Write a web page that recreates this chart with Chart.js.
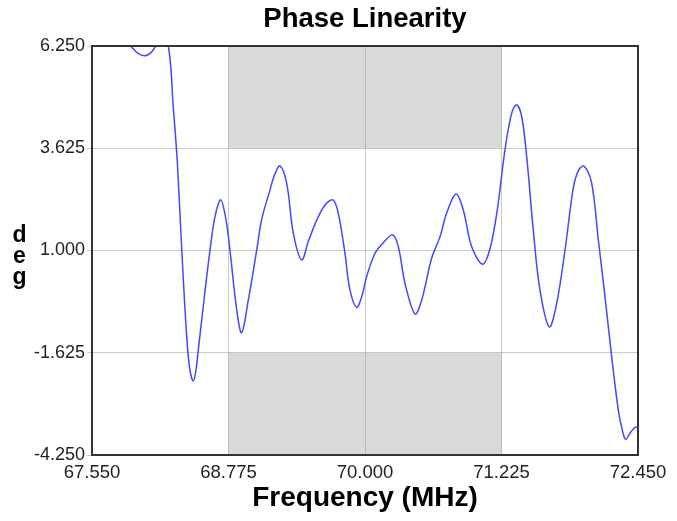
<!DOCTYPE html>
<html>
<head>
<meta charset="utf-8">
<script src="https://cdn.jsdelivr.net/npm/chart.js@4.4.1/dist/chart.umd.min.js"></script>
<style>
  html, body { margin: 0; padding: 0; background: #ffffff; }
  #wrap { width: 677px; height: 521px; position: relative; }
</style>
</head>
<body>
<div id="wrap"><canvas id="c" width="677" height="521"></canvas></div>
<script>
// ---- data ----
const freqMHz = [67.550, 67.712, 67.819, 67.897, 67.963, 68.026, 68.079, 68.122, 68.169, 68.235,
  68.280, 68.315, 68.355, 68.400, 68.429, 68.459, 68.483, 68.504, 68.555, 68.609,
  68.654, 68.705, 68.753, 68.788, 68.849, 68.893, 68.953, 69.028, 69.073, 69.147,
  69.190, 69.237, 69.297, 69.357, 69.432, 69.491, 69.567, 69.641, 69.713, 69.760, 69.820,
  69.865, 69.925, 69.970, 70.015, 70.090, 70.164, 70.249, 70.299, 70.359, 70.449,
  70.509, 70.598, 70.673, 70.733, 70.817, 70.882, 70.957, 71.056, 71.122, 71.187,
  71.256, 71.316, 71.361, 71.406, 71.451, 71.510, 71.570, 71.654, 71.720, 71.795,
  71.869, 71.915, 71.965, 72.034, 72.094, 72.154, 72.214, 72.273, 72.308, 72.339, 72.378,
  72.423, 72.450];
const phaseDeg = [7.30, 6.90, 6.50, 6.25, 6.06, 6.00, 6.08, 6.25, 6.50, 6.25,
  4.65, 3.30, 1.05, -1.21, -2.07, -2.35, -2.07, -1.55, -0.27, 1.01,
  1.87, 2.30, 1.78, 1.01, -0.53, -1.11, -0.27, 1.01, 1.80, 2.55,
  2.95, 3.17, 2.73, 1.44, 0.76, 1.23, 1.78, 2.17, 2.30, 1.96, 0.93,
  -0.01, -0.46, -0.19, 0.33, 0.93, 1.20, 1.40, 1.10, 0.16, -0.63,
  -0.27, 0.80, 1.35, 1.96, 2.45, 2.04, 1.10, 0.65, 1.05, 2.04,
  3.58, 4.52, 4.74, 4.44, 3.41, 1.53, -0.01, -0.96, -0.36, 1.01,
  2.60, 3.05, 3.17, 2.73, 1.27, -0.19, -1.73, -3.09, -3.60, -3.85, -3.69,
  -3.54, -3.54];
const xTickValues = [67.550, 68.775, 70.000, 71.225, 72.450];
const yTickValues = [-4.250, -1.625, 1.000, 3.625, 6.250];
const maskFreq = [68.775, 71.225];          // shaded frequency band
const maskUpper = [3.625, 6.250];           // shaded phase range above band
const maskLower = [-4.250, -1.625];         // shaded phase range below band
const yTitleLetters = ['d', 'e', 'g'];

const FONT = "'Liberation Sans', Arial, Helvetica, sans-serif";

const bgPlugin = {
  id: 'bgAndMask',
  beforeDraw(chart) {
    const ctx = chart.ctx;
    const xs = chart.scales.x, ys = chart.scales.y;
    ctx.save();
    ctx.fillStyle = '#ffffff';
    ctx.fillRect(0, 0, chart.width, chart.height);
    ctx.fillStyle = '#d9d9d9';
    const x0 = xs.getPixelForValue(maskFreq[0]), x1 = xs.getPixelForValue(maskFreq[1]);
    [maskUpper, maskLower].forEach(r => {
      const ya = ys.getPixelForValue(r[1]), yb = ys.getPixelForValue(r[0]);
      ctx.fillRect(x0, ya, x1 - x0, yb - ya);
    });
    ctx.restore();
  },
  afterDraw(chart) {
    const ctx = chart.ctx, ca = chart.chartArea;
    ctx.save();
    ctx.strokeStyle = '#333333';
    ctx.lineWidth = 2;
    ctx.strokeRect(ca.left, ca.top, ca.right - ca.left, ca.bottom - ca.top);
    // stacked (unrotated) y-axis title
    ctx.fillStyle = '#000000';
    ctx.font = "bold 23px " + FONT;
    ctx.textAlign = 'center';
    ctx.textBaseline = 'alphabetic';
    const mid = (ca.top + ca.bottom) / 2;
    yTitleLetters.forEach((ch, i) => {
      ctx.fillText(ch, 19.5, mid - 8.5 + i * 21);
    });
    ctx.restore();
  }
};

new Chart(document.getElementById('c'), {
  type: 'line',
  data: {
    datasets: [{
      data: freqMHz.map((f, i) => ({ x: f, y: phaseDeg[i] })),
      borderColor: 'rgb(70,70,255)',
      borderWidth: 1.5,
      pointRadius: 0,
      fill: false,
      tension: 0.35
    }]
  },
  plugins: [bgPlugin],
  options: {
    responsive: false,
    animation: false,
    devicePixelRatio: 1,
    layout: { padding: { left: 0, right: 39, top: 0, bottom: 0 } },
    plugins: {
      legend: { display: false },
      tooltip: { enabled: false },
      title: {
        display: true,
        text: 'Phase Linearity',
        fullSize: false,
        color: '#000000',
        font: { family: FONT, size: 27.5, weight: 'bold', lineHeight: 1.2 },
        padding: { top: 3, bottom: 10 }
      }
    },
    scales: {
      x: {
        type: 'linear',
        min: xTickValues[0],
        max: xTickValues[xTickValues.length - 1],
        afterBuildTicks: s => { s.ticks = xTickValues.map(v => ({ value: v })); },
        afterFit: s => { s.height = 66; },
        ticks: {
          color: '#222222',
          font: { family: FONT, size: 18.5 },
          padding: 7,
          maxRotation: 0,
          autoSkip: false,
          callback: v => Number(v).toFixed(3)
        },
        grid: { color: 'rgba(150,150,150,0.5)', lineWidth: 1, drawTicks: false },
        border: { display: false },
        title: {
          display: true,
          text: 'Frequency (MHz)',
          color: '#000000',
          font: { family: FONT, size: 28, weight: 'bold', lineHeight: 1.2 },
          padding: { top: 0, bottom: 6 }
        }
      },
      y: {
        type: 'linear',
        min: yTickValues[0],
        max: yTickValues[yTickValues.length - 1],
        afterBuildTicks: s => { s.ticks = yTickValues.map(v => ({ value: v })); },
        afterFit: s => { s.width = 92; },
        ticks: {
          color: '#222222',
          font: { family: FONT, size: 18 },
          padding: 2,
          autoSkip: false,
          callback: v => Number(v).toFixed(3)
        },
        grid: { color: 'rgba(150,150,150,0.5)', lineWidth: 1, tickLength: 5, drawTicks: true },
        border: { display: false },
        title: { display: false }
      }
    }
  }
});
</script>
</body>
</html>
